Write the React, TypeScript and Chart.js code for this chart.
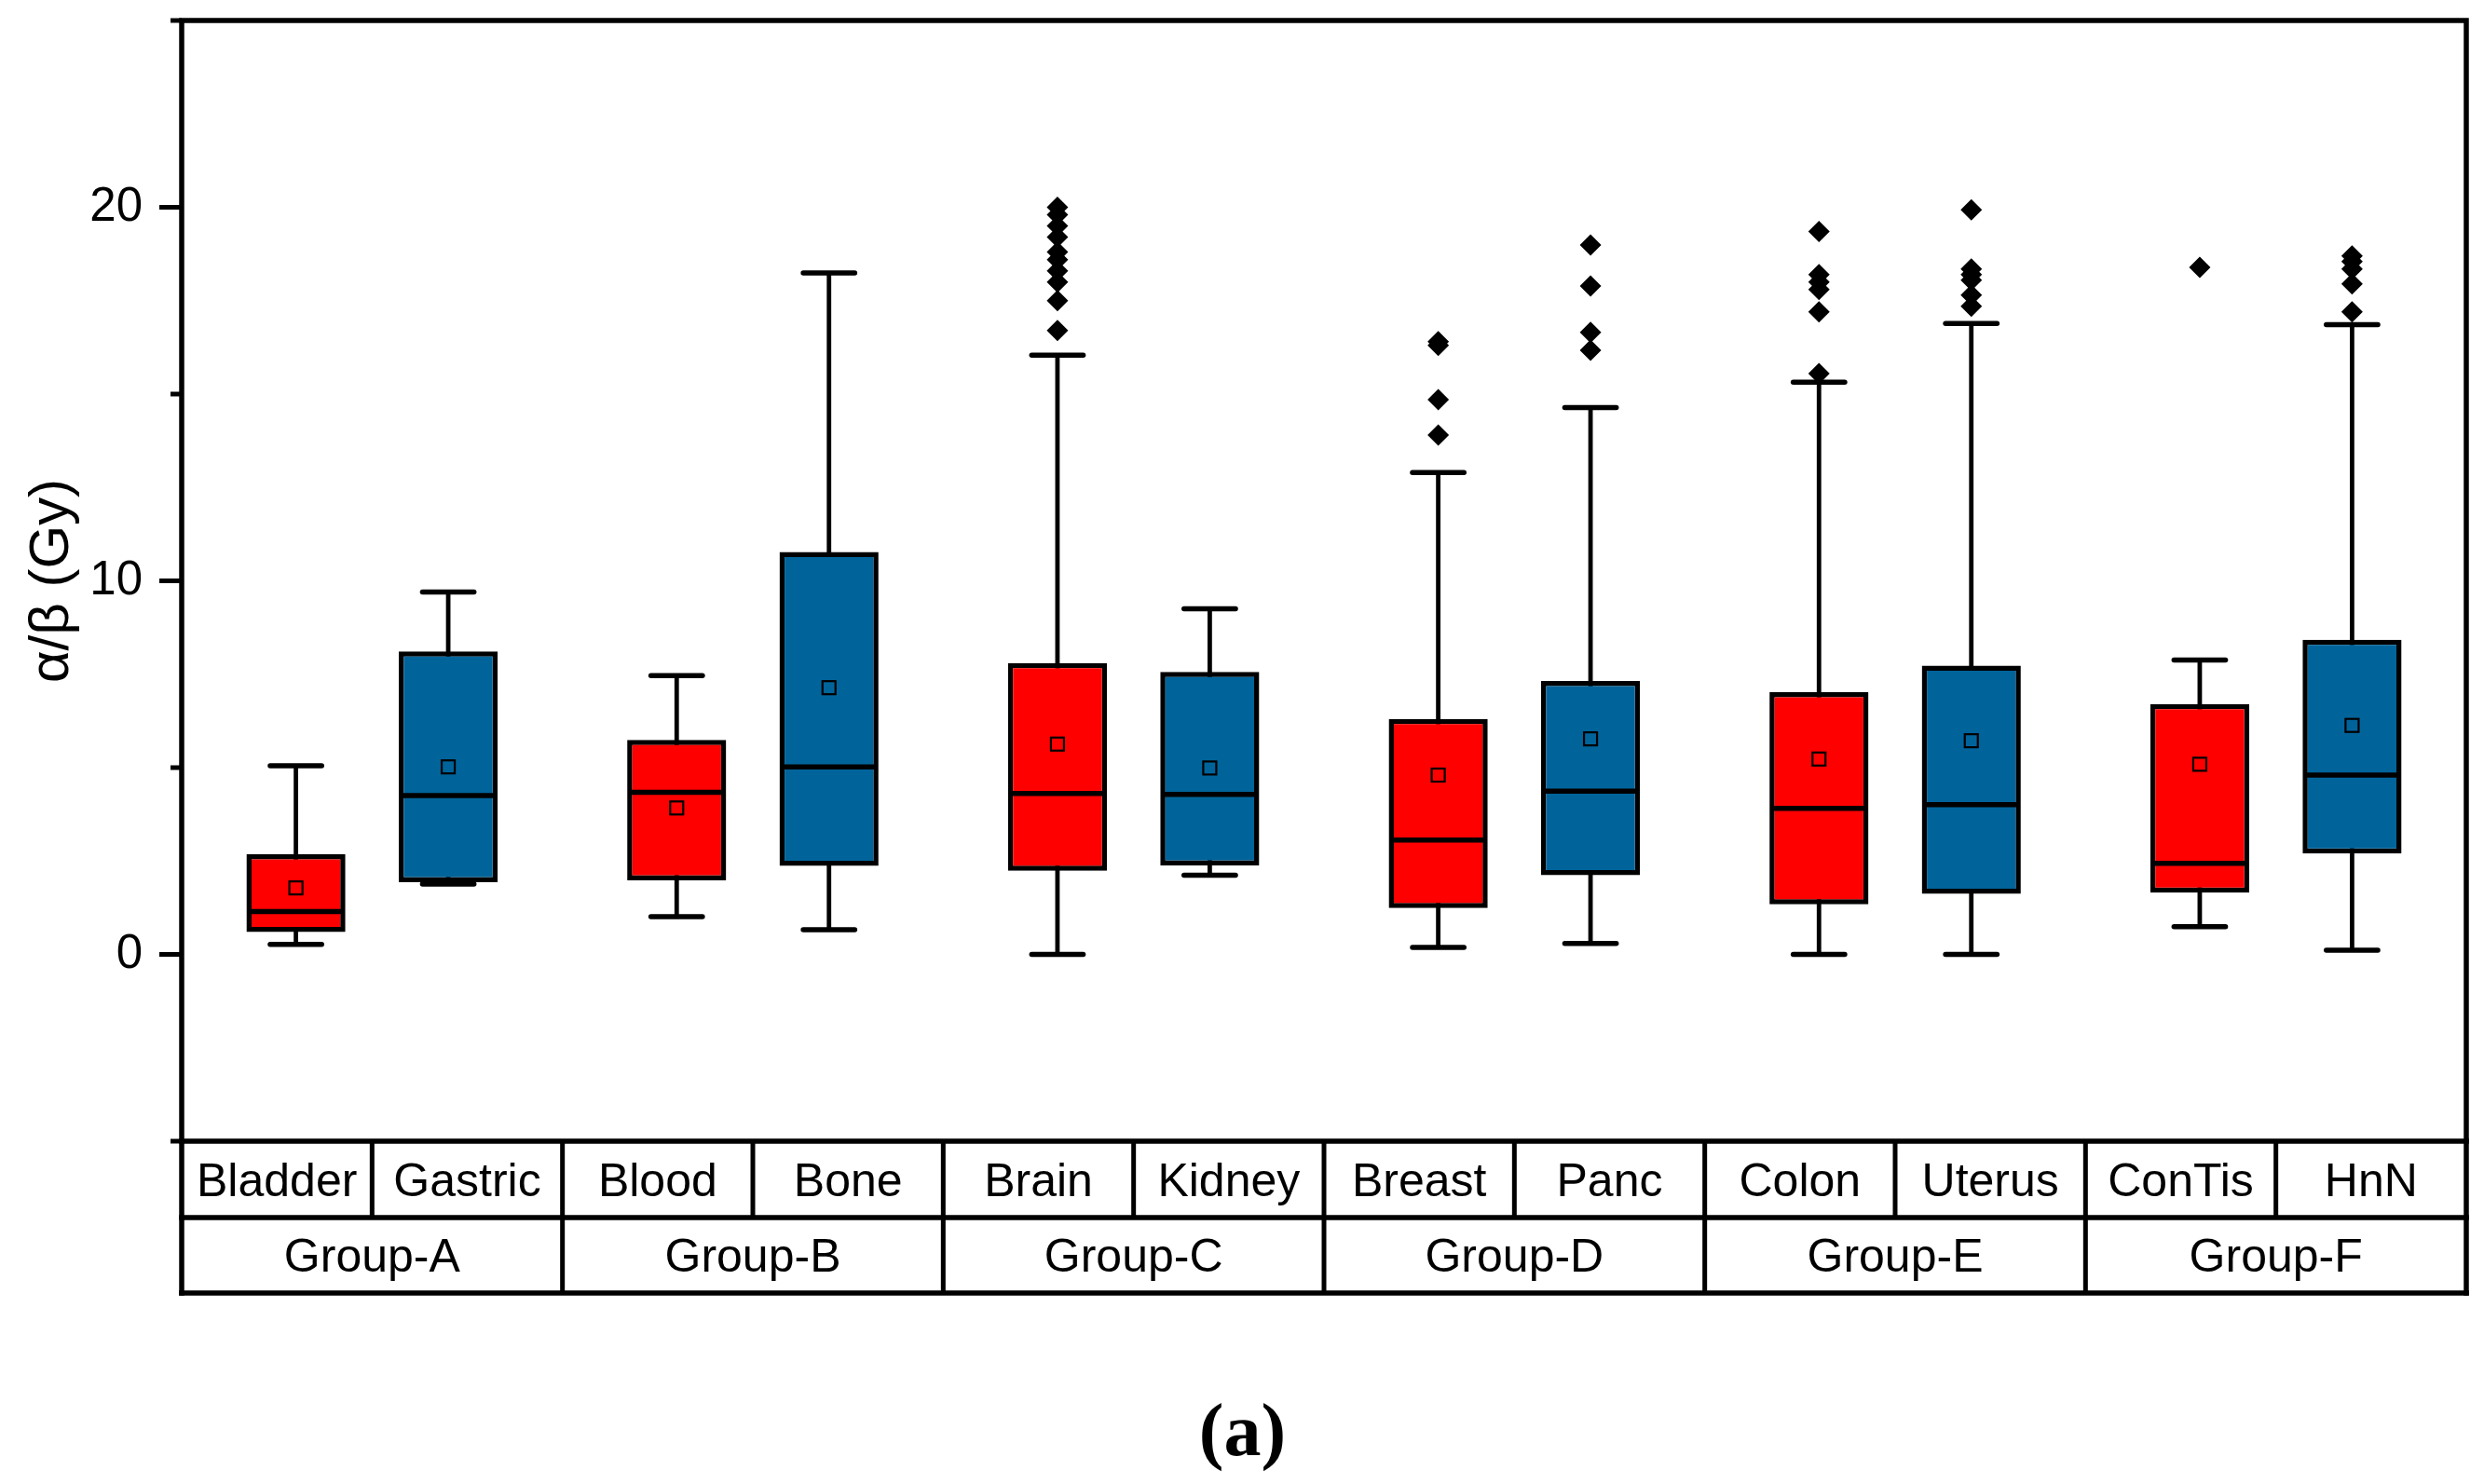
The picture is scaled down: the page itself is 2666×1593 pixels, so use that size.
import React, { useEffect, useRef } from 'react';
import { Chart, registerables } from 'chart.js';

Chart.register(...registerables);

// ---------- data ----------
const groups = ['Group-A', 'Group-B', 'Group-C', 'Group-D', 'Group-E', 'Group-F'];
const tissues = ['Bladder', 'Gastric', 'Blood', 'Bone', 'Brain', 'Kidney', 'Breast', 'Panc', 'Colon', 'Uterus', 'ConTis', 'HnN'];
const whiskerLow = [0.27, 1.88, 1.01, 0.66, 0.0, 2.12, 0.19, 0.29, 0.0, 0.0, 0.74, 0.11];
const q1 = [0.6, 1.93, 1.98, 2.37, 2.24, 2.38, 1.24, 2.12, 1.34, 1.62, 1.65, 2.7];
const median = [1.15, 4.25, 4.34, 5.02, 4.31, 4.28, 3.06, 4.37, 3.91, 4.01, 2.44, 4.8];
const mean = [1.78, 5.02, 3.92, 7.14, 5.63, 4.99, 4.8, 5.77, 5.23, 5.72, 5.09, 6.13];
const q3 = [2.68, 8.11, 5.74, 10.77, 7.8, 7.56, 6.3, 7.32, 7.02, 7.73, 6.7, 8.42];
const whiskerHigh = [5.05, 9.7, 7.46, 18.24, 16.04, 9.25, 12.9, 14.64, 15.32, 16.89, 7.88, 16.86];
const outliers: number[][] = [
  [],
  [],
  [],
  [],
  [16.7, 17.5, 18.0, 18.3, 18.6, 18.8, 19.2, 19.5, 19.8, 20.0],
  [],
  [13.9, 14.85, 16.3, 16.4],
  [16.17, 16.65, 17.89, 18.99],
  [15.55, 17.2, 17.8, 18.0, 18.2, 19.35],
  [17.35, 17.65, 18.05, 18.2, 18.35, 19.93],
  [18.39],
  [17.2, 17.95, 18.35, 18.55, 18.7],
];
const yMin = -5;
const yMax = 25;
const yStep = 5;

const RED = '#FF0000';
const BLUE = '#00649B';
const FONT = "'Liberation Sans', Arial, sans-serif";

// tissue index k = group*2 + dataset
const tIndex = (ds: number, j: number) => j * 2 + ds;

const boxplotPlugin = {
  id: 'boxplotExtras',
  beforeDatasetsDraw(chart: any) {
    const ctx = chart.ctx;
    const ys = chart.scales.y;
    ctx.save();
    ctx.strokeStyle = '#000';
    ctx.lineWidth = 4.8;
    for (let ds = 0; ds < 2; ds++) {
      const meta = chart.getDatasetMeta(ds);
      meta.data.forEach((el: any, j: number) => {
        const k = tIndex(ds, j);
        const { x } = el.getProps(['x'], true);
        ctx.beginPath();
        ctx.moveTo(x, ys.getPixelForValue(whiskerLow[k]));
        ctx.lineTo(x, ys.getPixelForValue(whiskerHigh[k]));
        ctx.stroke();
      });
    }
    ctx.restore();
  },
  afterDatasetsDraw(chart: any) {
    const ctx = chart.ctx;
    const ys = chart.scales.y;
    ctx.save();
    for (let ds = 0; ds < 2; ds++) {
      const meta = chart.getDatasetMeta(ds);
      meta.data.forEach((el: any, j: number) => {
        const k = tIndex(ds, j);
        const { x, width } = el.getProps(['x', 'width'], true);
        const capHalf = width * 0.26;
        // caps
        ctx.strokeStyle = '#000';
        ctx.lineWidth = 5.5;
        ctx.lineCap = 'round';
        [whiskerLow[k], whiskerHigh[k]].forEach((v) => {
          const py = ys.getPixelForValue(v);
          ctx.beginPath();
          ctx.moveTo(x - capHalf, py);
          ctx.lineTo(x + capHalf, py);
          ctx.stroke();
        });
        // median
        ctx.lineCap = 'butt';
        ctx.lineWidth = 5.5;
        const my = ys.getPixelForValue(median[k]);
        ctx.beginPath();
        ctx.moveTo(x - width / 2 + 2, my);
        ctx.lineTo(x + width / 2 - 2, my);
        ctx.stroke();
        // mean
        const mny = ys.getPixelForValue(mean[k]);
        ctx.lineWidth = 2.2;
        ctx.strokeRect(x - 7, mny - 7, 14, 14);
        // outliers
        ctx.fillStyle = '#000';
        outliers[k].forEach((v) => {
          const py = ys.getPixelForValue(v);
          const r = 11.5;
          ctx.beginPath();
          ctx.moveTo(x, py - r);
          ctx.lineTo(x + r, py);
          ctx.lineTo(x, py + r);
          ctx.lineTo(x - r, py);
          ctx.closePath();
          ctx.fill();
        });
      });
    }
    ctx.restore();
  },
  afterDraw(chart: any) {
    const ctx = chart.ctx;
    const ys = chart.scales.y;
    const xs = chart.scales.x;
    const { left, right, top, bottom } = chart.chartArea;
    const row1 = bottom + 82;
    const row2 = bottom + 163;
    ctx.save();
    ctx.strokeStyle = '#000';
    ctx.lineCap = 'square';
    // frame
    ctx.lineWidth = 5.5;
    ctx.beginPath();
    ctx.moveTo(left, row2);
    ctx.lineTo(left, top);
    ctx.lineTo(right, top);
    ctx.lineTo(right, row2);
    ctx.stroke();
    ctx.beginPath();
    ctx.moveTo(left, bottom);
    ctx.lineTo(right, bottom);
    ctx.moveTo(left, row1);
    ctx.lineTo(right, row1);
    ctx.moveTo(left, row2);
    ctx.lineTo(right, row2);
    ctx.stroke();
    // y ticks
    ctx.lineCap = 'butt';
    ctx.lineWidth = 5;
    ys.ticks.forEach((t: any) => {
      const py = ys.getPixelForValue(t.value);
      const len = t.value % 10 === 0 ? 24 : 12;
      ctx.beginPath();
      ctx.moveTo(left - len, py);
      ctx.lineTo(left, py);
      ctx.stroke();
    });
    // table
    const c0 = xs.getPixelForValue(0);
    const gw = xs.getPixelForValue(1) - c0;
    ctx.lineWidth = 5;
    ctx.fillStyle = '#000';
    ctx.font = `50px ${FONT}`;
    ctx.textAlign = 'center';
    ctx.textBaseline = 'middle';
    groups.forEach((g, i) => {
      const c = xs.getPixelForValue(i);
      if (i > 0) {
        ctx.beginPath();
        ctx.moveTo(c - gw / 2, bottom);
        ctx.lineTo(c - gw / 2, row2);
        ctx.stroke();
      }
      ctx.beginPath();
      ctx.moveTo(c, bottom);
      ctx.lineTo(c, row1);
      ctx.stroke();
      ctx.fillText(tissues[i * 2], c - gw / 4, (bottom + row1) / 2 + 4);
      ctx.fillText(tissues[i * 2 + 1], c + gw / 4, (bottom + row1) / 2 + 4);
      ctx.fillText(g, c, (row1 + row2) / 2 + 4);
    });
    ctx.restore();
  },
};

export default function App() {
  const ref = useRef<HTMLCanvasElement | null>(null);
  useEffect(() => {
    document.body.style.margin = '0';
    const canvas = ref.current;
    if (!canvas) return;
    const redData = groups.map((_, j) => [q1[tIndex(0, j)], q3[tIndex(0, j)]]);
    const blueData = groups.map((_, j) => [q1[tIndex(1, j)], q3[tIndex(1, j)]]);
    const chart = new Chart(canvas, {
      type: 'bar',
      data: {
        labels: groups,
        datasets: [
          {
            label: 'red',
            data: redData as any,
            backgroundColor: RED,
            borderColor: '#000',
            borderWidth: 5.5,
            borderSkipped: false,
            categoryPercentage: 0.8,
            barPercentage: 0.65,
          },
          {
            label: 'blue',
            data: blueData as any,
            backgroundColor: BLUE,
            borderColor: '#000',
            borderWidth: 5.5,
            borderSkipped: false,
            categoryPercentage: 0.8,
            barPercentage: 0.65,
          },
        ],
      },
      options: {
        responsive: false,
        animation: false,
        devicePixelRatio: 1,
        layout: { padding: { left: 20, right: 19, top: 22, bottom: 0 } },
        plugins: {
          legend: { display: false },
          tooltip: { enabled: false },
          title: {
            display: true,
            position: 'bottom',
            text: '(a)',
            color: '#000',
            font: { family: "'Liberation Serif', 'Times New Roman', serif", size: 80, weight: 'bold' },
            padding: { top: 0, bottom: 4 },
          },
        },
        scales: {
          x: {
            type: 'category',
            offset: true,
            grid: { display: false, drawTicks: false },
            border: { display: false },
            ticks: { display: false },
            afterFit(scale: any) {
              scale.height = 268;
              scale.paddingLeft = 0;
              scale.paddingRight = 0;
            },
          },
          y: {
            type: 'linear',
            min: yMin,
            max: yMax,
            grid: { display: false, drawTicks: false },
            border: { display: false },
            ticks: {
              stepSize: yStep,
              autoSkip: false,
              color: '#000',
              padding: 42,
              font: { family: FONT, size: 51 },
              callback: (v: any) => (Number(v) % 10 === 0 ? String(v) : ''),
            },
            title: {
              display: true,
              text: 'α/β (Gy)',
              color: '#000',
              font: { family: FONT, size: 60 },
              padding: { top: 0, bottom: 0 },
            },
            afterFit(scale: any) {
              scale.width = 175;
              scale.paddingTop = 0;
              scale.paddingBottom = 0;
            },
          },
        },
      },
      plugins: [boxplotPlugin],
    });
    return () => chart.destroy();
  }, []);
  return (
    <div style={{ position: 'fixed', left: 0, top: 0, width: '2666px', height: '1593px', background: '#fff' }}>
      <canvas ref={ref} width={2666} height={1593} style={{ display: 'block' }} />
    </div>
  );
}
